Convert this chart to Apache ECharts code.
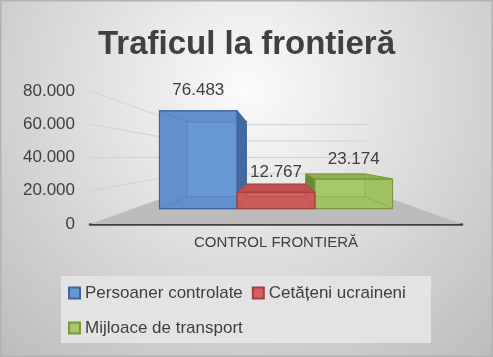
<!DOCTYPE html>
<html><head><meta charset="utf-8">
<script src="https://cdn.jsdelivr.net/npm/echarts@6/dist/echarts.min.js"></script>
<style>html,body{margin:0;padding:0;background:#fff}#c{width:493px;height:357px;}</style>
</head><body><div id="c"></div>
<script>
const categories = ['CONTROL FRONTIERĂ'];
const seriesNames = ['Persoaner controlate', 'Cetățeni ucraineni', 'Mijloace de transport'];
const persoane = [76483];
const cetateni = [12767];
const mijloace = [23174];
const yTicks = [0, 20000, 40000, 60000, 80000];
const titleText = 'Traficul la frontieră';

const FONT = '"Liberation Sans", Arial, sans-serif';
const palette = [
  {light:'#6898d4', mid:'#6190cd', inner:'#5685c3', side:'#44699c', top:'#5a86c4', edge:'#3d66a0'},
  {light:'#cf625f', mid:'#ca5b58', inner:'#bf514e', side:'#a94442', top:'#c04f4d', edge:'#a63f3d'},
  {light:'#a7c869', mid:'#a1c263', inner:'#93b456', side:'#6b8a38', top:'#8fb04f', edge:'#7b9a40'}
];
const K_WALL = 0.495, K_FRONT = 0.77, K_BACK = 0.589, BAR_FRAC = 0.2712;

function fmt(v){ return String(v).replace(/\B(?=(\d{3})+(?!\d))/g,'.'); }

function projector(cs){
  const cx = cs.x + cs.width/2, cy = cs.y + cs.height/2;
  return (p,k)=>[cx + k*(p[0]-cx), cy + k*(p[1]-cy)];
}

function renderWalls(params, api){
  const cs = params.coordSys;
  const proj = projector(cs);
  const x0 = cs.x, x1 = cs.x + cs.width;
  const yBase = api.coord([0,0])[1];
  const children = [];
  children.push({type:'polygon', shape:{points:[[x0,yBase],[x1,yBase],proj([x1,yBase],K_WALL),proj([x0,yBase],K_WALL)]}, style:{fill:'#bcbcbc'}});
  yTicks.forEach(v=>{
    if (v === 0) return;
    const y = api.coord([0,v])[1];
    children.push({type:'polyline', shape:{points:[[x0,y], proj([x0,y],K_WALL), proj([x1,y],K_WALL)]}, style:{stroke:'#d2d2d2', lineWidth:1, fill:null}});
  });
  return {type:'group', children};
}

function makeBarRender(i){
  const c = palette[i];
  return function(params, api){
    const cs = params.coordSys;
    const proj = projector(cs);
    const cat = api.value(0), val = api.value(1);
    const base = api.coord([cat, 0]);
    const topP = api.coord([cat, val]);
    const band = api.size([1,0])[0];
    const w = band*BAR_FRAC;
    const xl = base[0] + (i-1.5)*w, xr = xl + w;
    const yb = base[1], yt = topP[1];
    const corners = [[xl,yt],[xr,yt],[xr,yb],[xl,yb]];
    const F = corners.map(p=>proj(p,K_FRONT));
    const B = corners.map(p=>proj(p,K_BACK));
    const faces = {
      top:{pts:[F[0],F[1],B[1],B[0]], out:B[0][1] < F[0][1], col:c.top},
      right:{pts:[F[1],F[2],B[2],B[1]], out:B[1][0] > F[1][0], col:c.side},
      bottom:{pts:[F[3],F[2],B[2],B[3]], out:B[3][1] > F[3][1], col:c.side},
      left:{pts:[F[0],F[3],B[3],B[0]], out:B[0][0] < F[0][0], col:c.side}
    };
    const ch = [];
    ch.push({type:'polygon', shape:{points:B}, style:{fill:c.light, stroke:c.inner, lineWidth:1}});
    Object.keys(faces).forEach(k=>{ const f = faces[k]; if(!f.out) ch.push({type:'polygon', shape:{points:f.pts}, style:{fill:c.mid, stroke:c.inner, lineWidth:1}}); });
    Object.keys(faces).forEach(k=>{ const f = faces[k]; if(f.out) ch.push({type:'polygon', shape:{points:f.pts}, style:{fill:f.col, stroke:c.edge, lineWidth:1}}); });
    ch.push({type:'polygon', shape:{points:F}, style:{fill:null, stroke:c.edge, lineWidth:1.2}});
    ch.push({type:'text', style:{text:fmt(val), x:(F[0][0]+F[1][0])/2, y:F[0][1]-20, align:'center', verticalAlign:'middle', font:'17px ' + FONT, fill:'#404040'}});
    return {type:'group', children:ch};
  };
}

const values = [persoane, cetateni, mijloace];
const zs = [3, 4, 3];
const barSeries = seriesNames.map((name,i)=>({
  type:'custom', name, z: zs[i],
  renderItem: makeBarRender(i),
  itemStyle:{color:palette[i].light, borderColor:palette[i].edge, borderWidth:1.6},
  data: values[i].map((v,j)=>[j, v]),
  encode:{x:0, y:1}
}));

const chart = echarts.init(document.getElementById('c'));
chart.setOption({
  animation:false,
  backgroundColor:{type:'radial', x:0.5, y:0.25, r:1, colorStops:[{offset:0,color:'#fbfbfb'},{offset:1,color:'#bdbdbd'}]},
  title:{text:titleText, left:'center', top:20, textStyle:{fontFamily:FONT, fontWeight:'bold', fontSize:33, color:'#404040', lineHeight:40}},
  graphic:[
    {type:'rect', left:61, top:276, shape:{width:370, height:67}, style:{fill:'#e3e3e3'}, z:0},
    {type:'rect', shape:{x:0.75, y:0.75, width:491.5, height:355.5}, style:{fill:null, stroke:'#b3b3b3', lineWidth:1.5}, z:0}
  ],
  legend:{data:seriesNames, left:68, top:280, width:362, padding:0, itemGap:9, itemWidth:11, itemHeight:11, icon:'rect',
    textStyle:{fontFamily:FONT, fontSize:17, color:'#404040', lineHeight:26}},
  grid:{left:90, right:31, top:91, bottom:133, containLabel:false},
  xAxis:{type:'category', data:categories, axisTick:{show:false},
    axisLine:{lineStyle:{color:'#404040', width:2.5}},
    axisLabel:{fontFamily:FONT, fontSize:15, color:'#404040', margin:11}},
  yAxis:{type:'value', min:0, max:80000, interval:20000, splitLine:{show:false}, axisLine:{show:false}, axisTick:{show:false},
    axisLabel:{fontFamily:FONT, fontSize:17, color:'#404040', margin:15, formatter:v=>fmt(v)}},
  series:[
    {type:'custom', silent:true, z:1, renderItem:renderWalls, data:[[0,0]], encode:{x:0,y:1}}
  ].concat(barSeries)
});
</script></body></html>
